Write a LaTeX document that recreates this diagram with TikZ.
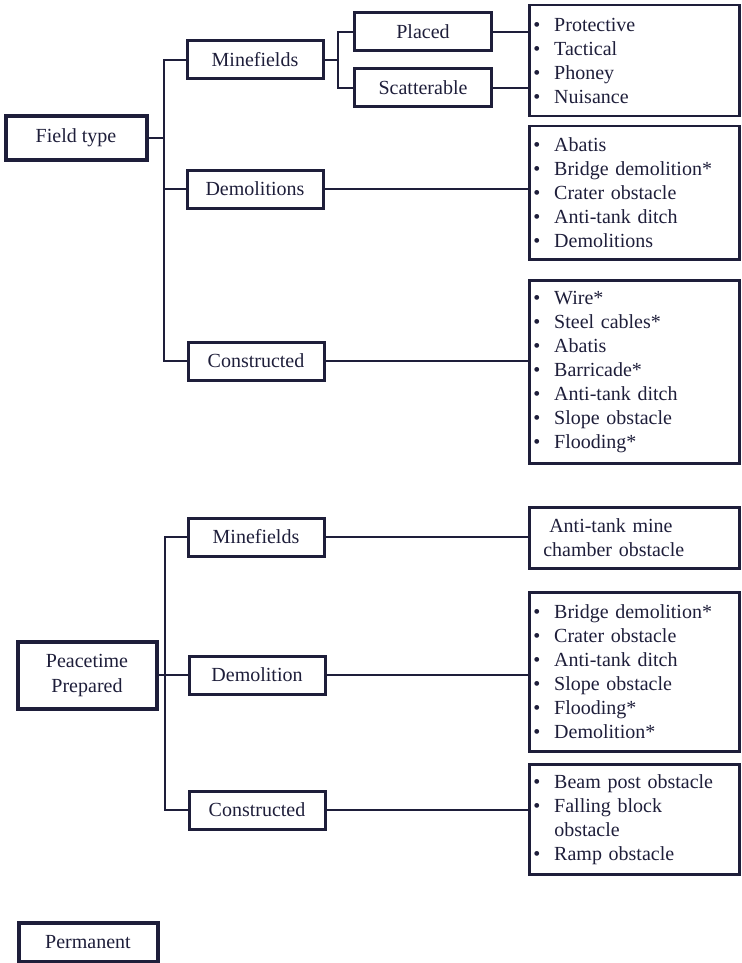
\documentclass[tikz,border=0pt]{standalone}
\usepackage{fontspec}
\setmainfont{Liberation Serif}
\definecolor{ink}{RGB}{30,30,58}
\newcommand{\bul}{\makebox[21pt][l]{\textbullet}}
\tikzset{
  cat/.style={draw=ink, line width=3pt, minimum width=136pt, minimum height=38pt, inner sep=0pt, text=ink, align=center, font=\fontsize{20}{25}\selectfont},
  root/.style={cat, line width=4pt},
  lst/.style={draw=ink, line width=2.5pt, anchor=north west, align=left, text width=202pt, inner xsep=4pt, inner ysep=0pt, text=ink, font=\fontsize{20}{24}\selectfont},
  wire/.style={draw=ink, line width=2pt}
}
\begin{document}
\begin{tikzpicture}[x=1pt,y=-1pt]
\useasboundingbox (0,0) rectangle (741,963);
\node[root, minimum width=141pt, minimum height=43pt] (ft) at (76,138){Field type};
\node[cat] (mf1) at (255,60){Minefields};
\node[cat] (dem1) at (255,189){Demolitions};
\node[cat] (con1) at (256,361){Constructed};
\node[cat, minimum width=137pt] (pl) at (423,32){Placed};
\node[cat, minimum width=137pt] (sc) at (423,88){Scatterable};
\node[lst, minimum height=111pt] (l1) at (528,4){\bul Protective\\\bul Tactical\\\bul Phoney\\\bul Nuisance};
\node[lst, minimum height=133pt] (l2) at (528,125){\bul Abatis\\\bul Bridge demolition*\\\bul Crater obstacle\\\bul Anti-tank ditch\\\bul Demolitions};
\node[lst, minimum height=183pt] (l3) at (528,279){\bul Wire*\\\bul Steel cables*\\\bul Abatis\\\bul Barricade*\\\bul Anti-tank ditch\\\bul Slope obstacle\\\bul Flooding*};
\coordinate (t1) at (164,138);
\coordinate (b1) at (338,60);
\draw[wire](ft) -- (t1);
\draw[wire](mf1.west) -| (t1) |- (con1.west);
\draw[wire](dem1.west) -- (dem1.west -| t1);
\draw[wire](mf1) -- (b1);
\draw[wire](pl.west) -| (b1) |- (sc.west);
\draw[wire](pl.east) -- (pl.east -| l1.west);
\draw[wire](sc.east) -- (sc.east -| l1.west);
\draw[wire](dem1.east) -- (dem1.east -| l2.west);
\draw[wire](con1.east) -- (con1.east -| l3.west);
\node[root, minimum width=139pt, minimum height=67pt] (pp) at (87,675){Peacetime\\Prepared};
\node[cat] (mf2) at (256,537){Minefields};
\node[cat] (dem2) at (257,675){Demolition};
\node[cat] (con2) at (257,810){Constructed};
\node[lst, minimum height=61pt] (l4) at (528,506){\hspace*{16pt}Anti-tank mine\\\hspace*{10pt}chamber obstacle};
\node[lst, minimum height=159pt] (l5) at (528,591){\bul Bridge demolition*\\\bul Crater obstacle\\\bul Anti-tank ditch\\\bul Slope obstacle\\\bul Flooding*\\\bul Demolition*};
\node[lst, minimum height=110pt] (l6) at (528,763){\bul Beam post obstacle\\\bul Falling block\\\hspace*{21pt}obstacle\\\bul Ramp obstacle};
\coordinate (t2) at (165,675);
\draw[wire](pp) -- (t2);
\draw[wire](mf2.west) -| (t2) |- (con2.west);
\draw[wire](dem2) -- (t2);
\draw[wire](mf2.east) -- (mf2.east -| l4.west);
\draw[wire](dem2.east) -- (dem2.east -| l5.west);
\draw[wire](con2.east) -- (con2.east -| l6.west);
\node[root, minimum width=139pt, minimum height=39pt] (pm) at (88,942){Permanent};
\end{tikzpicture}
\end{document}
